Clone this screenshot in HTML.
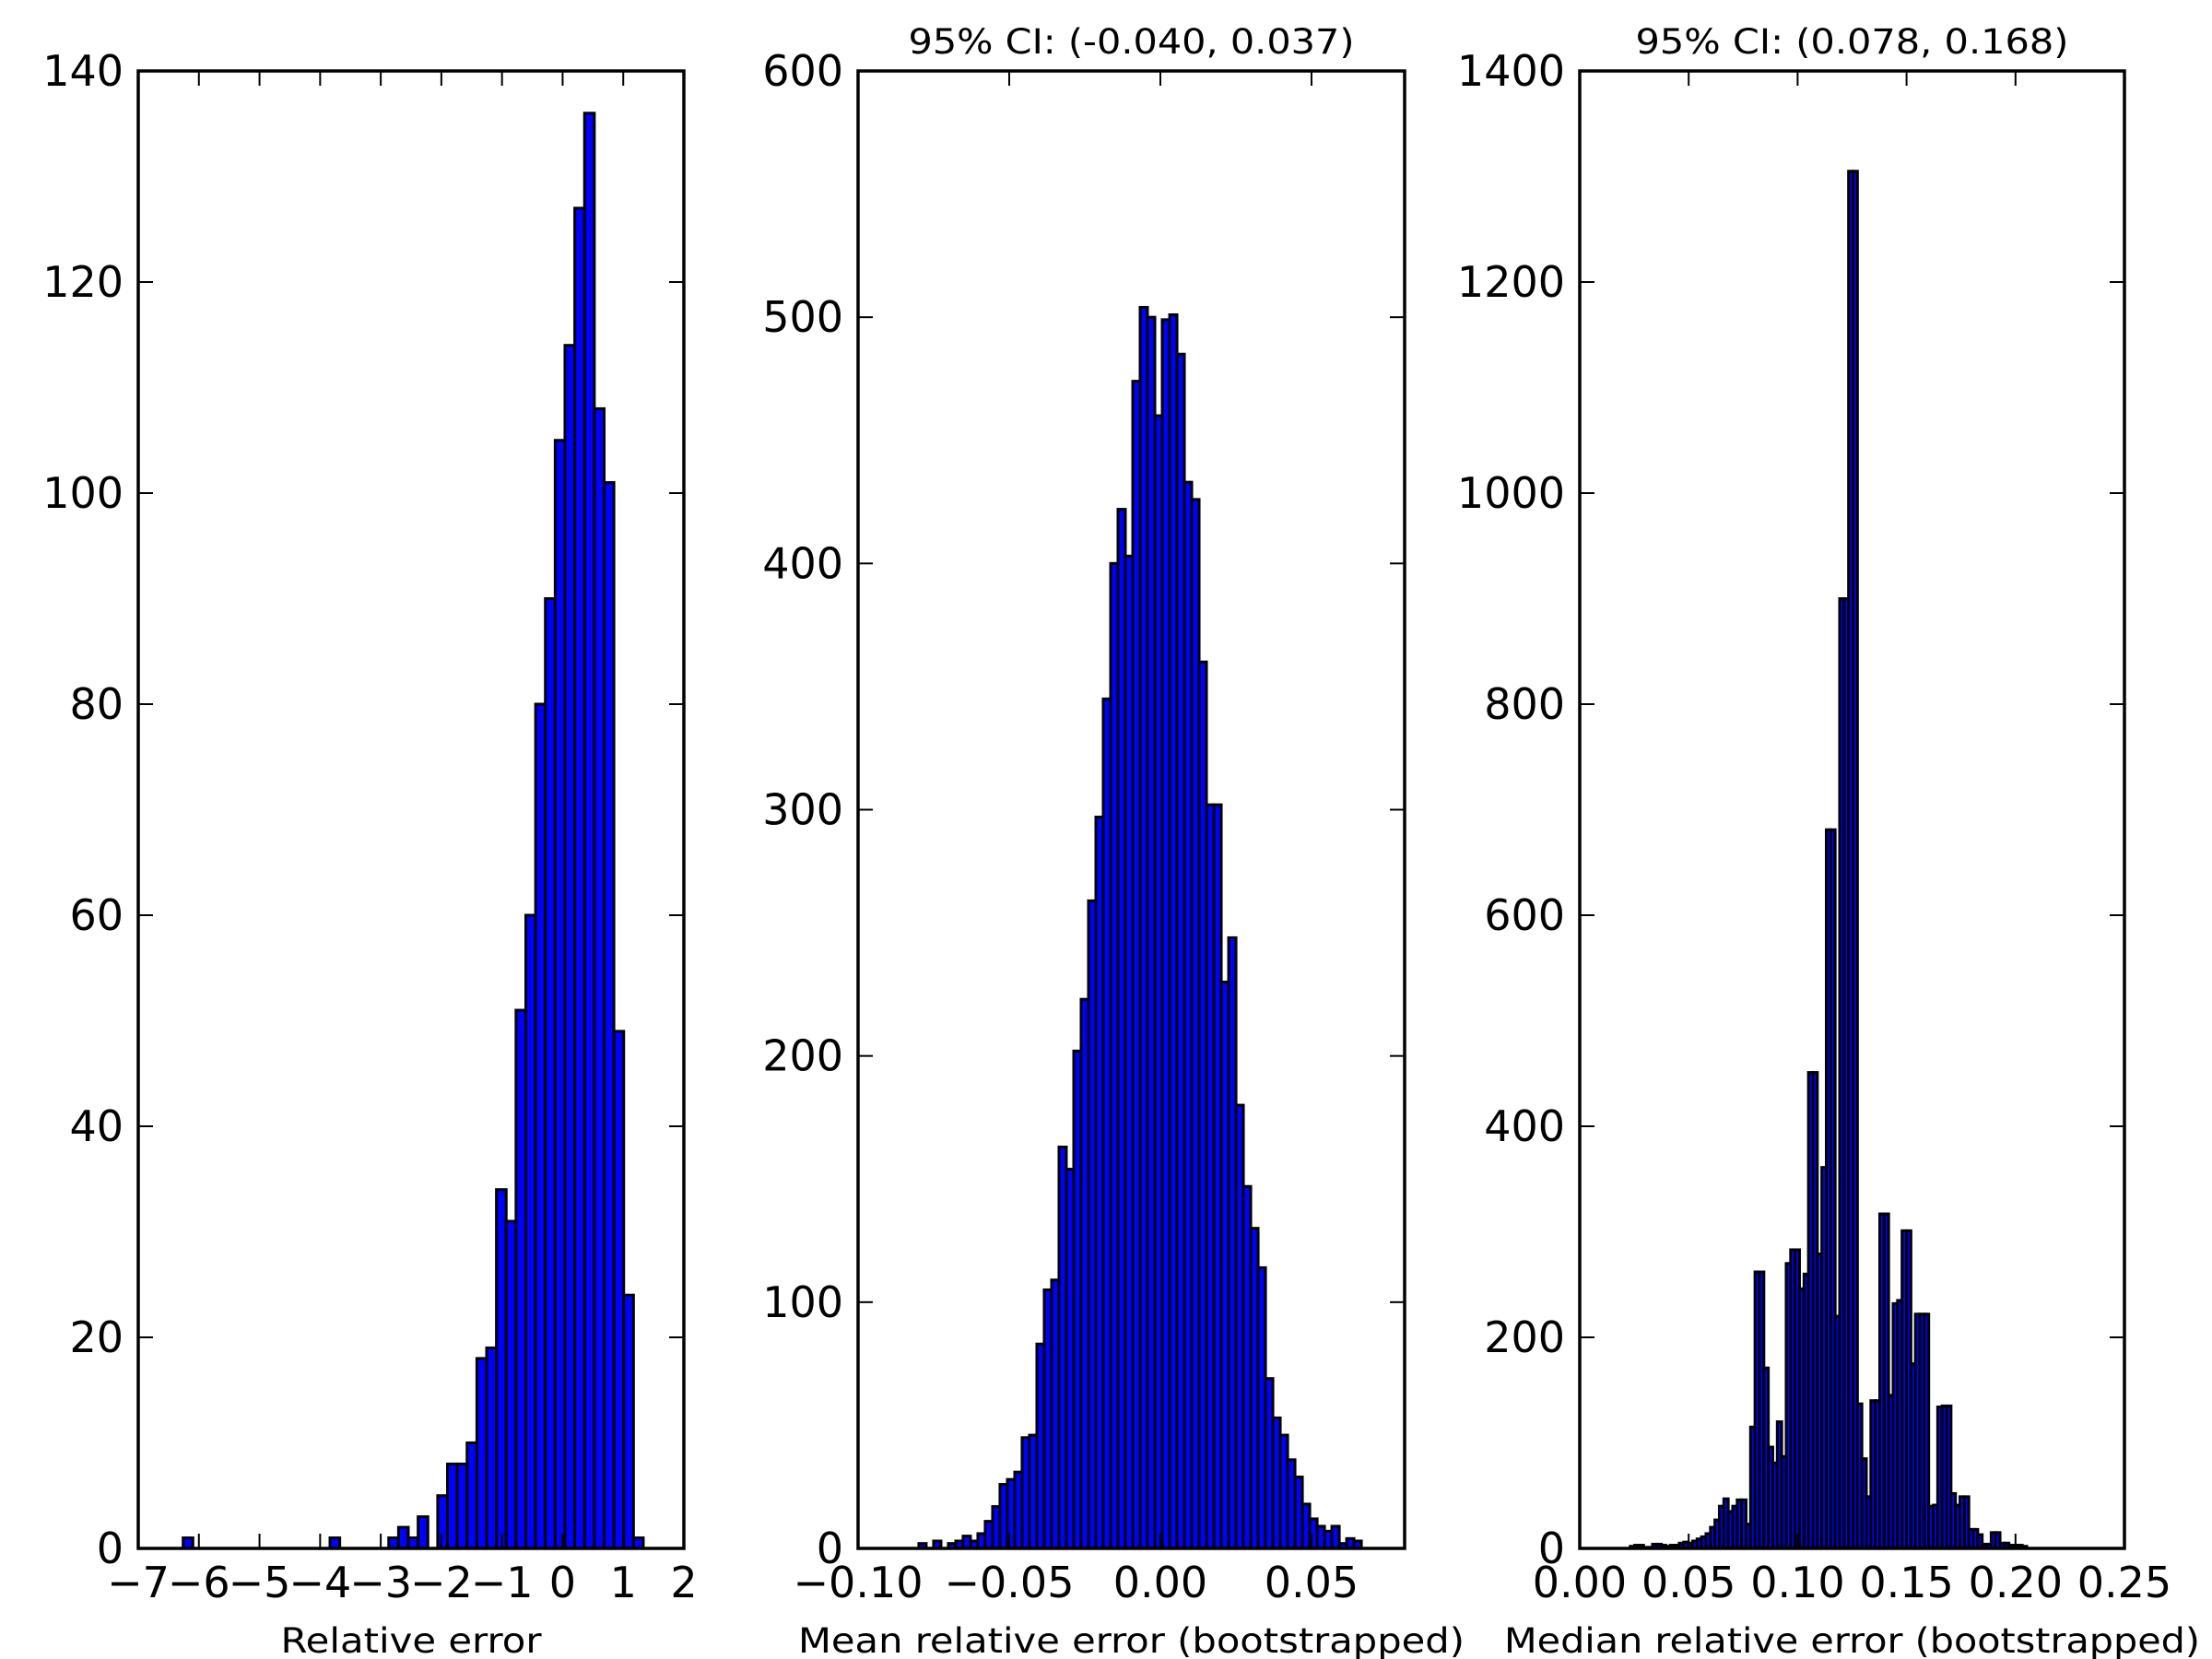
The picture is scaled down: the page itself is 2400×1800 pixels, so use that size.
<!DOCTYPE html>
<html><head><meta charset="utf-8"><style>
html,body{margin:0;padding:0;background:#fff;}
svg{display:block;font-family:"DejaVu Sans","Liberation Sans",sans-serif;}
</style></head>
<body>
<svg id="fig" width="2400" height="1800" viewBox="0 0 2400 1800" xmlns="http://www.w3.org/2000/svg">
<rect x="0" y="0" width="2400" height="1800" fill="#fff"/>
</svg>
<script>
// ---- Panel 1 data: relative error ----
const relStart = -6.26;
const relBinWidth = 0.1615;
const relCounts = [1,0,0,0,0,0,0,0,0,0,0,0,0,0,0,1,0,0,0,0,0,
  1,2,1,3,0,5,8,8,10,18,19,34,31,51,60,80,90,105,114,127,136,108,101,49,24,1];
const relXTicks = [-7,-6,-5,-4,-3,-2,-1,0,1,2];
const relXTickLabels = ["\u22127","\u22126","\u22125","\u22124","\u22123","\u22122","\u22121","0","1","2"];
const relYTicks = [0,20,40,60,80,100,120,140];

// ---- Panel 2 data: bootstrapped mean ----
const meanStart = -0.0799;
const meanBinWidth = 0.00244;
const meanCounts = [2,0,3,0,2,3,5,3,6,11,17,26,28,31,45,46,83,105,109,163,
  154,202,223,263,297,345,400,422,403,474,504,500,460,499,501,485,433,426,360,302,
  302,230,248,180,147,130,114,69,53,46,36,29,18,12,9,7,9,2,4,3];
const meanXTicks = [-0.10,-0.05,0.00,0.05];
const meanXTickLabels = ["\u22120.10","\u22120.05","0.00","0.05"];
const meanYTicks = [0,100,200,300,400,500,600];

// ---- Panel 3 data: bootstrapped median ----
const medStart = 0.02317;
const medBinWidth = 0.002045;
const medCounts = [2,3,3,1,1,4,4,3,2,3,3,5,6,5,7,9,11,14,20,27,40,47,35,
  40,46,46,23,115,262,262,171,96,81,120,87,270,283,283,246,260,451,451,279,361,681,681,220,900,900,1305,1305,137,85,49,
  140,140,317,317,145,232,235,301,301,175,222,222,222,40,41,134,135,135,52,41,49,49,18,18,13,4,4,15,15,5,5,3,3,3,2];
const medXTicks = [0,0.05,0.10,0.15,0.20,0.25];
const medXTickLabels = ["0.00","0.05","0.10","0.15","0.20","0.25"];
const medYTicks = [0,200,400,600,800,1000,1200,1400];

const svg = document.getElementById('fig');
const NS = 'http://www.w3.org/2000/svg';
function mk(tag, attrs, parent){
  const e = document.createElementNS(NS, tag);
  for (const k in attrs) e.setAttribute(k, attrs[k]);
  (parent||svg).appendChild(e);
  return e;
}

function panel(cfg){
  const {key, left, right, top, bottom, xmin, xmax, ymax, start, bw, counts, xticks, xlabels, yticks, title, titleLen, xlabel, xlabelLen} = cfg;
  const sx = v => left + (v - xmin) / (xmax - xmin) * (right - left);
  const sy = v => bottom - v / ymax * (bottom - top);
  const g = mk('g', {});
  
  
  const bars = mk('g', {}, g);
  
  
  counts.forEach((c, i) => {
    if (c <= 0) return;
    const x0 = sx(start + i * bw), x1 = sx(start + (i + 1) * bw);
    const r = mk('rect', {x: x0, y: sy(c), width: x1 - x0, height: sy(0) - sy(c), fill: '#0000ff', stroke: '#000', 'stroke-width': 3}, bars);
    
    
  });
  // ticks
  const tg = mk('g', {stroke: '#000', 'stroke-width': 2}, g);
  
  
  xticks.forEach((v, i) => {
    const x = sx(v);
    mk('line', {x1: x, x2: x, y1: bottom, y2: bottom - 16}, tg);
    mk('line', {x1: x, x2: x, y1: top, y2: top + 16}, tg);
    const t = mk('text', {x: x, y: 1733, 'text-anchor': 'middle', 'font-size': 46, fill: '#000'}, g);
    t.textContent = xlabels[i];
    
    
  });
  yticks.forEach(v => {
    const y = sy(v);
    mk('line', {x1: left, x2: left + 16, y1: y, y2: y}, tg);
    mk('line', {x1: right, x2: right - 16, y1: y, y2: y}, tg);
    const t = mk('text', {x: left - 16, y: y + 16, 'text-anchor': 'end', 'font-size': 46, fill: '#000'}, g);
    t.textContent = String(v);
    
    
  });
  const frame = mk('rect', {x: left, y: top, width: right - left, height: bottom - top, fill: 'none', stroke: '#000', 'stroke-width': 3.5}, g);
  
  
  if (title){
    const t = mk('text', {x: (left + right) / 2, y: 58, 'text-anchor': 'middle', 'font-size': 37, fill: '#000', textLength: titleLen, lengthAdjust: 'spacingAndGlyphs'}, g);
    t.textContent = title;
    
    
  }
  const xl = mk('text', {x: (left + right) / 2, y: 1793, 'text-anchor': 'middle', 'font-size': 37, fill: '#000', textLength: xlabelLen, lengthAdjust: 'spacingAndGlyphs'}, g);
  xl.textContent = xlabel;
  
  
}

panel({key: 'relative-error', left: 150, right: 742, top: 77, bottom: 1680, xmin: -7, xmax: 2, ymax: 140,
  start: relStart, bw: relBinWidth, counts: relCounts, xticks: relXTicks, xlabels: relXTickLabels, yticks: relYTicks,
  title: null, xlabel: 'Relative error', xlabelLen: 283});
panel({key: 'mean-error', left: 931, right: 1524, top: 77, bottom: 1680, xmin: -0.10, xmax: 0.0808, ymax: 600,
  start: meanStart, bw: meanBinWidth, counts: meanCounts, xticks: meanXTicks, xlabels: meanXTickLabels, yticks: meanYTicks,
  title: '95% CI: (-0.040, 0.037)', titleLen: 484, xlabel: 'Mean relative error (bootstrapped)', xlabelLen: 723});
panel({key: 'median-error', left: 1714, right: 2305, top: 77, bottom: 1680, xmin: 0, xmax: 0.25, ymax: 1400,
  start: medStart, bw: medBinWidth, counts: medCounts, xticks: medXTicks, xlabels: medXTickLabels, yticks: medYTicks,
  title: '95% CI: (0.078, 0.168)', titleLen: 470, xlabel: 'Median relative error (bootstrapped)', xlabelLen: 755});
</script>
</body></html>
